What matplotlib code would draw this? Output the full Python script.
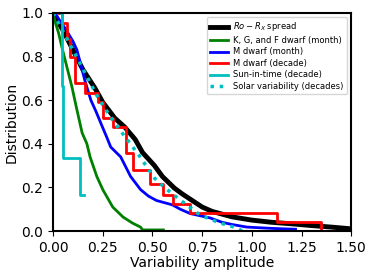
import numpy as np
import matplotlib
matplotlib.use("Agg")
import matplotlib.pyplot as plt

# Ro - Rx spread (black band)
spread_x = [0.0, 0.05, 0.1, 0.15, 0.21, 0.25, 0.31, 0.36, 0.413, 0.45, 0.51, 0.55,
            0.61, 0.65, 0.7, 0.75, 0.8, 0.9, 1.0, 1.1, 1.2, 1.3, 1.4, 1.5]
spread_y = [1.0, 0.92, 0.83, 0.74, 0.656, 0.59, 0.518, 0.477, 0.42, 0.36, 0.30, 0.25,
            0.197, 0.17, 0.14, 0.11, 0.09, 0.065, 0.05, 0.04, 0.033, 0.025, 0.018, 0.01]

# K, G, and F dwarf (month)
kgf_x = [0.0, 0.01, 0.027, 0.045, 0.07, 0.095, 0.12, 0.146, 0.17, 0.186, 0.22,
         0.25, 0.30, 0.352, 0.40, 0.44, 0.45, 0.555]
kgf_y = [1.0, 0.96, 0.91, 0.84, 0.75, 0.66, 0.555, 0.45, 0.40, 0.34, 0.25,
         0.19, 0.11, 0.064, 0.036, 0.018, 0.005, 0.005]

# M dwarf (month)
mmon_x = [0.01, 0.03, 0.06, 0.08, 0.1, 0.12, 0.14, 0.16, 0.19, 0.215, 0.24, 0.27,
          0.29, 0.34, 0.39, 0.44, 0.48, 0.52, 0.6, 0.64, 0.69, 0.79, 0.85, 0.9,
          0.975, 1.1, 1.22]
mmon_y = [1.0, 0.97, 0.93, 0.90, 0.87, 0.83, 0.76, 0.69, 0.60, 0.55, 0.495, 0.43,
          0.385, 0.34, 0.25, 0.19, 0.16, 0.14, 0.12, 0.10, 0.08, 0.06, 0.04, 0.03,
          0.018, 0.012, 0.008]

# M dwarf (decade), step levels
mdec_x = [0.03, 0.047, 0.068, 0.086, 0.111, 0.161, 0.228, 0.253, 0.30, 0.365,
          0.40, 0.488, 0.555, 0.605, 0.69, 1.127, 1.35]
mdec_y = [1.0, 0.955, 0.88, 0.80, 0.68, 0.635, 0.59, 0.52, 0.478, 0.356,
          0.28, 0.215, 0.165, 0.122, 0.083, 0.04, 0.0]

# Sun-in-time (decade), step levels
sun_x = [0.04, 0.043, 0.046, 0.05, 0.136, 0.156]
sun_y = [1.0, 0.833, 0.667, 0.333, 0.167, 0.167]

# Solar variability (decades)
solar_x = [0.0, 0.1, 0.227, 0.277, 0.31, 0.43, 0.51, 0.56, 0.64, 0.74, 0.84, 0.925, 0.95]
solar_y = [1.0, 0.83, 0.61, 0.54, 0.495, 0.35, 0.243, 0.2, 0.142, 0.073, 0.037, 0.014, 0.0]

fig = plt.figure(figsize=(3.74, 2.76), dpi=100)
ax = fig.add_axes([0.142, 0.163, 0.797, 0.79])

ax.plot(spread_x, spread_y, color='k', lw=3.5, label='$Ro-R_X$ spread')
ax.plot(kgf_x, kgf_y, color='g', lw=2, label='K, G, and F dwarf (month)')
ax.plot(mmon_x, mmon_y, color='b', lw=2, label='M dwarf (month)')
ax.plot(mdec_x, mdec_y, color='r', lw=2, drawstyle='steps-post', label='M dwarf (decade)')
ax.plot(sun_x, sun_y, color='c', lw=2, drawstyle='steps-post', label='Sun-in-time (decade)')
ax.plot(solar_x, solar_y, color='c', lw=2.5, ls=':', label='Solar variability (decades)')

ax.set_xlim(0, 1.5)
ax.set_ylim(0, 1.0)
ax.set_xticks(np.arange(0, 1.51, 0.25))
ax.set_xticklabels(['0.00', '0.25', '0.50', '0.75', '1.00', '1.25', '1.50'])
ax.set_yticks(np.arange(0, 1.01, 0.2))
ax.tick_params(labelsize=10)
for s in ax.spines.values():
    s.set_linewidth(1.5)
ax.set_xlabel('Variability amplitude', fontsize=10, labelpad=1)
ax.set_ylabel('Distribution', fontsize=10, labelpad=2)
ax.legend(loc='upper right', fontsize=6.0, handlelength=2.2, labelspacing=0.3,
          borderpad=0.4, handletextpad=0.6)

fig.savefig('out.png', dpi=100)
